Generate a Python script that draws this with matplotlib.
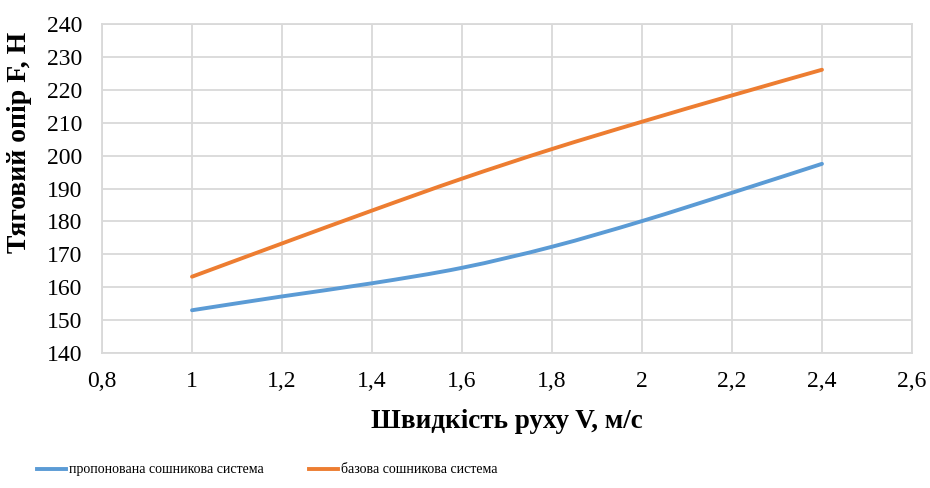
import numpy as np
import matplotlib
matplotlib.use('Agg')
import matplotlib.pyplot as plt
from matplotlib.path import Path
from matplotlib.patches import PathPatch
from matplotlib.lines import Line2D

plt.rcParams['font.family'] = ['Liberation Serif', 'DejaVu Serif']

# швидкість руху, м/с
v = [1.0, 1.2, 1.4, 1.6, 1.8, 2.0, 2.2, 2.4]
# тяговий опір, Н
f_prop = [153.0, 157.2, 161.2, 165.9, 172.3, 180.1, 188.7, 197.5]
f_base = [163.2, 173.3, 183.3, 193.0, 202.0, 210.3, 218.3, 226.1]

labels = ['пропонована сошникова система', 'базова сошникова система']
colors = ['#5B9BD5', '#ED7D31']


def smooth_path(x, y):
    # згладжена лінія як в Excel: кубічні Безьє з дотичними Catmull-Rom
    pts = np.column_stack([x, y])
    ext = np.vstack([pts[0], pts, pts[-1]])
    verts = [pts[0]]
    codes = [Path.MOVETO]
    for i in range(1, len(ext) - 2):
        p0, p1, p2, p3 = ext[i - 1], ext[i], ext[i + 1], ext[i + 2]
        verts += [p1 + (p2 - p0) / 6, p2 - (p3 - p1) / 6, p2]
        codes += [Path.CURVE4] * 3
    return Path(verts, codes)


fig = plt.figure(figsize=(9.3, 4.88), dpi=100)
ax = fig.add_axes([0.1097, 0.2766, 0.8709, 0.6742])

handles = []
for y, c, lab in zip([f_prop, f_base], colors, labels):
    ax.add_patch(PathPatch(smooth_path(v, y), facecolor='none', edgecolor=c,
                           lw=2.8, capstyle='round', zorder=3))
    handles.append(Line2D([], [], color=c, lw=2.8, label=lab))

xt = np.arange(0.8, 2.61, 0.2).round(1)
ax.set_xlim(0.8, 2.6)
ax.set_ylim(140, 240)
ax.set_xticks(xt)
ax.set_yticks(np.arange(140, 241, 10))
ax.set_xticklabels([f'{t:g}'.replace('.', ',') for t in xt])
ax.tick_params(length=0, labelsize=17)
ax.tick_params(axis='x', pad=13)
ax.tick_params(axis='y', pad=14)
ax.grid(True, color='#D9D9D9', lw=1.3)
ax.set_axisbelow(True)
for s in ax.spines.values():
    s.set_color('#D9D9D9')
    s.set_linewidth(1.3)

ax.set_xlabel('Швидкість руху V, м/с', fontsize=19.5, fontweight='bold', labelpad=12)
ax.set_ylabel('Тяговий опір F, Н', fontsize=20, fontweight='bold')
ax.yaxis.set_label_coords(-0.086, 0.641)

fig.legend(handles=handles, loc='center left', bbox_to_anchor=(0.026, 0.037),
           ncol=2, frameon=False, fontsize=10, handlelength=2.1,
           handletextpad=0.2, columnspacing=3.3)

fig.savefig('out.png', dpi=100)
